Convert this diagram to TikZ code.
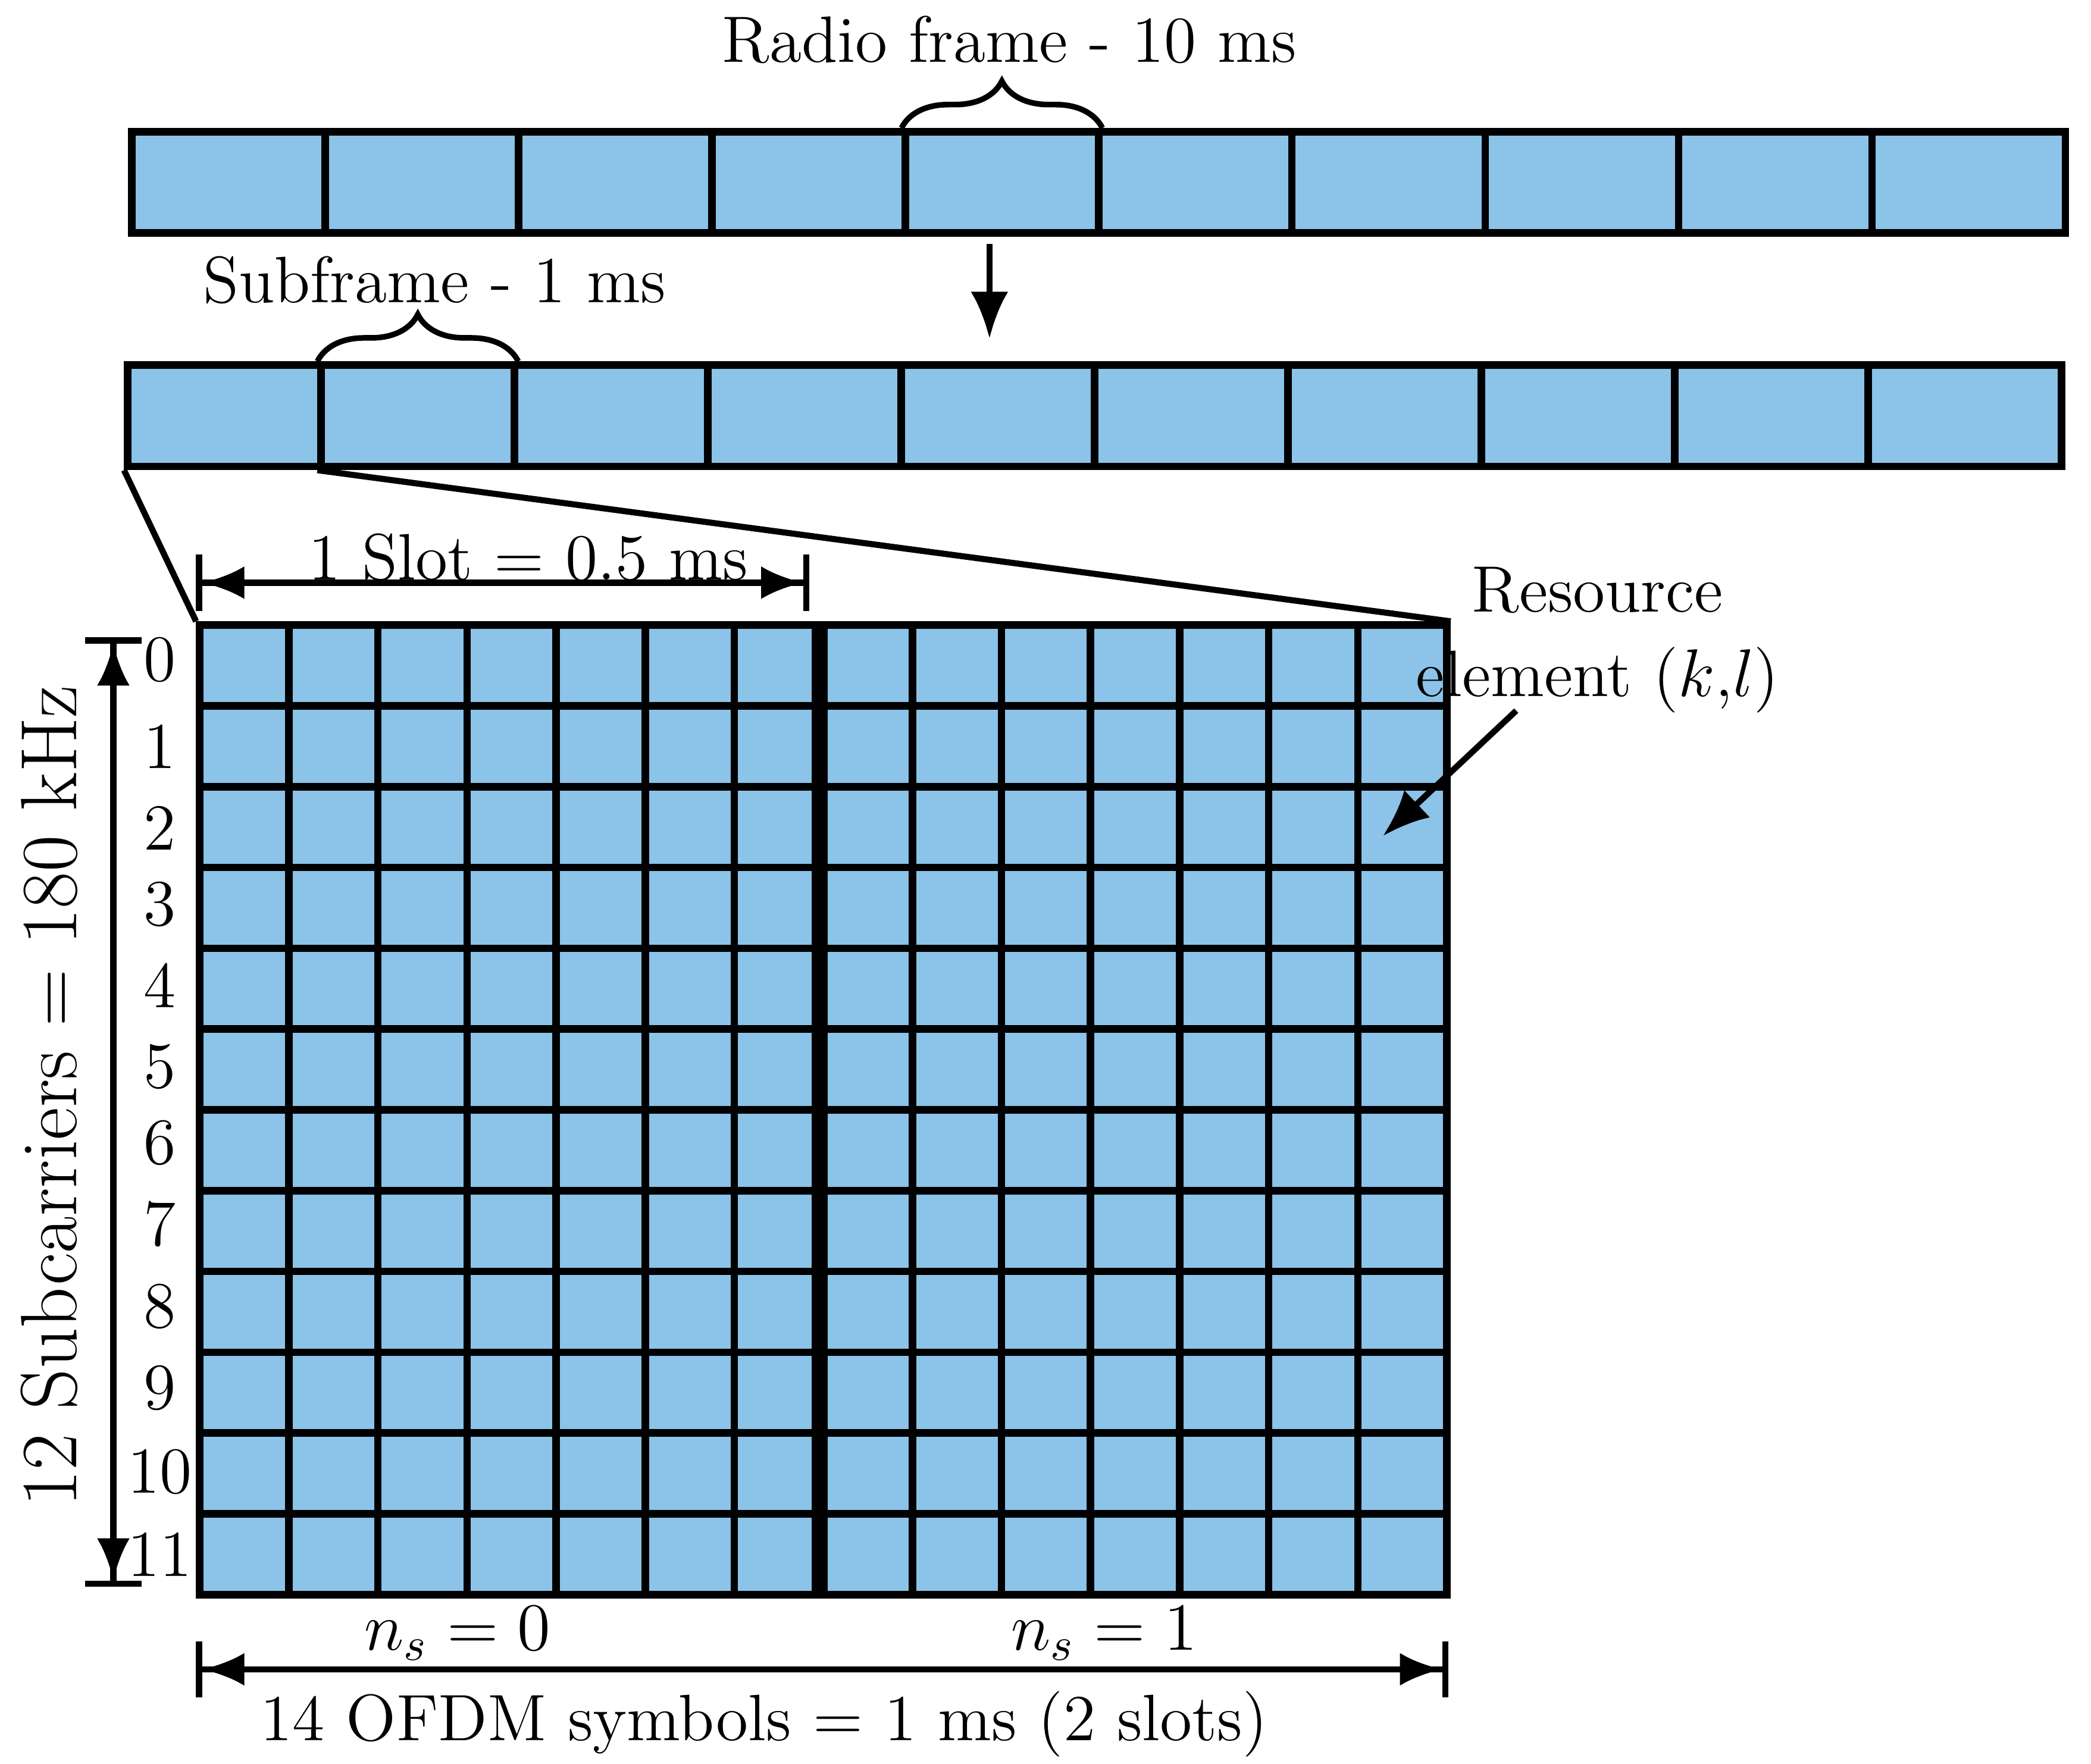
\documentclass[tikz,border=0pt]{standalone}
\usetikzlibrary{arrows.meta,decorations.pathreplacing}
\definecolor{cellblue}{RGB}{140,195,232}
\begin{document}
\begin{tikzpicture}[x=0.01cm,y=-0.01cm,
  cell/.style={draw=black,line width=1.6pt,fill=cellblue},
  lbl/.style={font=\fontsize{14}{16}\selectfont,inner sep=0pt},
  brace/.style={decorate,decoration={brace,amplitude=10pt},line width=1.2pt},
  dim/.style={line width=1.3pt,{Bar[width=12pt]Latex[length=9pt,width=7pt]}-{Latex[length=9pt,width=7pt]Bar[width=12pt]}}]
\useasboundingbox (0,0) rectangle (1568,1323);
% top bar
\foreach \i in {0,...,9}{
  \node[cell,minimum width=145*0.01cm,minimum height=76*0.01cm,inner sep=0,anchor=north west] (t\i) at (96+145*\i,96) {};
  \node[cell,minimum width=145*0.01cm,minimum height=76*0.01cm,inner sep=0,anchor=north west] (s\i) at (93+145*\i,271) {};
}
\draw[brace] (t4.north west) -- (t4.north east) coordinate[midway] (rb);
\node[lbl] (rf) at (757,30) {Radio frame - 10 ms};
\draw[brace] (s1.north west) -- (s1.north east);
\node[lbl] (sf) at (326,210) {Subframe - 1 ms};
\coordinate (a1) at (742,183); \coordinate (a2) at (742,254);
\draw[line width=1.3pt,-{Latex[length=10pt,width=8pt]}] (a1) -- (a2);
% grid
\foreach \c in {0,...,13}{\foreach \r in {0,...,11}{
  \node[cell,minimum width=66.8*0.01cm,minimum height=60.6*0.01cm,inner sep=0,anchor=north west] (g\c-\r) at (147+66.8*\c,466+60.6*\r) {};
}}
\draw[line width=1.3pt] (s0.south west) -- (g0-0.north west);
\draw[line width=1.3pt] (s1.south west) -- (g13-0.north east);
\draw[line width=3.5pt] (g7-0.north west) -- (g7-11.south west);
% slot dim
\coordinate (sl1) at (147,437); \coordinate (sl2) at (607,437);
\draw[dim] (sl1) -- (sl2);
\node[lbl] (slot) at (396,418) {1 Slot = 0.5 ms};
% vertical dim
\coordinate (v1) at (85,478); \coordinate (v2) at (85,1190);
\draw[dim] (v1) -- (v2);
\node[lbl,rotate=90] (sc) at (37,822) {\fontsize{17}{19}\selectfont 12 Subcarriers = 180 kHz};
\foreach \r/\y in {0/495,1/560,2/621,3/678,4/739,5/800,6/857,7/918,8/980,9/1041,10/1104,11/1166}{
  \node[lbl] (n\r) at (120,\y) {\r};
}
% bottom
\node[lbl] (ns0) at (343,1225) {$n_s = 0$};
\node[lbl] (ns1) at (828,1225) {$n_s = 1$};
\coordinate (b1) at (147,1252); \coordinate (b2) at (1086,1252);
\draw[dim] (b1) -- (b2);
\node[lbl] (ofdm) at (573,1293) {14 OFDM symbols = 1 ms (2 slots)};
% resource element
\node[lbl,align=center] (re) at (1198,480) {Resource\\[2pt] element ($k$,$l$)};
\coordinate (r1) at (1137,533); \coordinate (r2) at (1037,627);
\draw[line width=1.3pt,-{Latex[length=10pt,width=8pt]}] (r1) -- (r2);
\end{tikzpicture}
\end{document}
